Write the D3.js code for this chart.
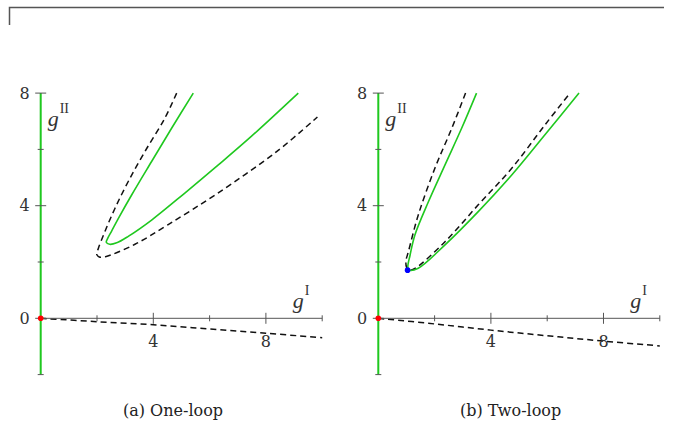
<!DOCTYPE html>
<html>
<head>
<meta charset="utf-8">
<script src="https://cdn.jsdelivr.net/npm/d3@7"></script>
<style>
  body { margin: 0; background: #fff; }
  svg { display: block; }
  text { font-family: "DejaVu Serif", serif; fill: #333; }
</style>
</head>
<body>
<div id="chart"></div>
<script>
const width = 676, height = 423;

// Axis ticks and labels
const xTicks = [2, 4, 6, 8, 10];
const xMajor = [4, 8];
const yTicks = [-2, 0, 2, 4, 6, 8];
const yMajor = [0, 4, 8];
const yLabels = [0, 4, 8];
const xLabels = [4, 8];

// (a) One-loop: green curve, dashed curve, dashed line near the gI axis
const oneLoopGreen = [
  [5.42, 8.0], [4.65, 6.75], [3.94, 5.57], [3.23, 4.38], [2.76, 3.55],
  [2.52, 3.10], [2.38, 2.84], [2.33, 2.70], [2.45, 2.63], [2.70, 2.68],
  [3.11, 2.91], [3.94, 3.49], [5.12, 4.45], [6.31, 5.45], [7.49, 6.47], [9.15, 8.0]
];
const oneLoopDashed = [
  [4.83, 8.0], [4.41, 7.11], [3.70, 5.92], [3.11, 4.86], [2.64, 3.91],
  [2.28, 3.08], [2.05, 2.49], [1.99, 2.27], [2.08, 2.18], [2.30, 2.19],
  [3.35, 2.63], [4.53, 3.33], [6.25, 4.42], [8.38, 5.92], [9.83, 7.15]
];
const oneLoopLine = [[0, 0], [2, -0.12], [4, -0.23], [6, -0.38], [8, -0.53], [10, -0.69]];

// (b) Two-loop
const twoLoopGreen = [
  [3.49, 8.0], [2.96, 6.75], [2.37, 5.45], [1.78, 4.14], [1.30, 2.96],
  [1.13, 2.25], [1.05, 1.82], [1.10, 1.71], [1.42, 1.78], [2.37, 2.61],
  [3.55, 3.79], [4.74, 5.09], [5.92, 6.52], [7.13, 8.0]
];
const twoLoopDashed = [
  [3.10, 8.0], [2.61, 6.75], [2.01, 5.33], [1.42, 3.67], [1.07, 2.37],
  [0.98, 2.02], [1.01, 1.80], [1.10, 1.71], [1.30, 1.77], [2.37, 2.72],
  [3.55, 4.03], [4.74, 5.33], [5.92, 6.87], [6.81, 8.0]
];
const twoLoopLine = [[0, 0], [2, -0.2], [4, -0.42], [6, -0.62], [8, -0.81], [10, -0.98]];
const twoLoopPoint = [1.04, 1.71];

const captions = ["(a) One-loop", "(b) Two-loop"];

const green = "#1fc81f";
const axisGray = "#555";

const svg = d3.select("#chart")
  .append("svg")
    .attr("width", width)
    .attr("height", height);

// Frame line at the top
svg.append("path")
  .attr("d", "M9.5,25 V7.5 H664")
  .attr("fill", "none")
  .attr("stroke", "#555")
  .attr("stroke-width", 1.5);

const unit = 28.15;
const plotTop = 93.1;
const xScale = d3.scaleLinear().domain([0, 10]).range([0, 10 * unit]);
const yScale = d3.scaleLinear().domain([-2, 8]).range([10 * unit, 0]);

const line = d3.line()
  .x(d => xScale(d[0]))
  .y(d => yScale(d[1]))
  .curve(d3.curveCatmullRom.alpha(0.5));

const drawPanel = (left, greenPts, dashedPts, linePts, point, caption) => {
  const g = svg.append("g")
    .attr("transform", `translate(${left}, ${plotTop})`);

  // Dashed line below the gI axis
  g.append("path")
    .attr("d", line(linePts))
    .attr("fill", "none")
    .attr("stroke", "#111")
    .attr("stroke-width", 1.5)
    .attr("stroke-dasharray", "6,4");

  // gI axis
  g.append("line")
    .attr("x1", xScale(0)).attr("x2", xScale(10))
    .attr("y1", yScale(0)).attr("y2", yScale(0))
    .attr("stroke", axisGray)
    .attr("stroke-width", 1);

  // gII axis (green)
  g.append("line")
    .attr("x1", xScale(0)).attr("x2", xScale(0))
    .attr("y1", yScale(-2)).attr("y2", yScale(8))
    .attr("stroke", green)
    .attr("stroke-width", 2);

  // x ticks
  g.selectAll(".xtick")
    .data(xTicks)
    .join("line")
      .attr("class", "xtick")
      .attr("x1", d => xScale(d)).attr("x2", d => xScale(d))
      .attr("y1", d => yScale(0) - (xMajor.includes(d) ? 5.5 : 3))
      .attr("y2", d => yScale(0) + (xMajor.includes(d) ? 5.5 : 3))
      .attr("stroke", axisGray);

  // y ticks
  g.selectAll(".ytick")
    .data(yTicks)
    .join("line")
      .attr("class", "ytick")
      .attr("y1", d => yScale(d)).attr("y2", d => yScale(d))
      .attr("x1", d => xScale(0) - (yMajor.includes(d) ? 5.5 : 3))
      .attr("x2", d => xScale(0) + (yMajor.includes(d) ? 5.5 : 3))
      .attr("stroke", axisGray);

  // Dashed curve
  g.append("path")
    .attr("d", line(dashedPts))
    .attr("fill", "none")
    .attr("stroke", "#111")
    .attr("stroke-width", 1.5)
    .attr("stroke-dasharray", "6,4");

  // Green curve
  g.append("path")
    .attr("d", line(greenPts))
    .attr("fill", "none")
    .attr("stroke", green)
    .attr("stroke-width", 1.6);

  // Points
  g.append("circle")
    .attr("cx", xScale(0)).attr("cy", yScale(0))
    .attr("r", 2.8)
    .attr("fill", "#f00");
  if (point) {
    g.append("circle")
      .attr("cx", xScale(point[0])).attr("cy", yScale(point[1]))
      .attr("r", 2.8)
      .attr("fill", "#00f");
  }

  // Tick labels
  g.selectAll(".ylab")
    .data(yLabels)
    .join("text")
      .attr("class", "ylab")
      .attr("x", xScale(0) - 11)
      .attr("y", d => yScale(d))
      .attr("dy", "0.36em")
      .attr("text-anchor", "end")
      .attr("font-size", 16)
      .text(d => d);

  g.selectAll(".xlab")
    .data(xLabels)
    .join("text")
      .attr("class", "xlab")
      .attr("x", d => xScale(d))
      .attr("y", yScale(0) + 29)
      .attr("text-anchor", "middle")
      .attr("font-size", 16)
      .text(d => d);

  // Axis names
  const yName = g.append("text")
    .attr("x", xScale(0) + 7)
    .attr("y", yScale(8) + 33)
    .style("font-family", "'Liberation Serif', serif");
  yName.append("tspan").attr("font-style", "italic").attr("font-size", 22).text("g");
  yName.append("tspan").attr("font-size", 14).attr("dx", 1).attr("dy", -13).text("II");

  const xName = g.append("text")
    .attr("x", xScale(8.95))
    .attr("y", yScale(0) - 10)
    .style("font-family", "'Liberation Serif', serif");
  xName.append("tspan").attr("font-style", "italic").attr("font-size", 22).text("g");
  xName.append("tspan").attr("font-size", 14).attr("dx", 1).attr("dy", -13).text("I");

  // Caption
  svg.append("text")
    .attr("x", left + xScale(4.7))
    .attr("y", 416)
    .attr("text-anchor", "middle")
    .attr("font-size", 16)
    .style("fill", "#222")
    .text(caption);
};

drawPanel(40.7, oneLoopGreen, oneLoopDashed, oneLoopLine, null, captions[0]);
drawPanel(378.3, twoLoopGreen, twoLoopDashed, twoLoopLine, twoLoopPoint, captions[1]);
</script>
</body>
</html>
